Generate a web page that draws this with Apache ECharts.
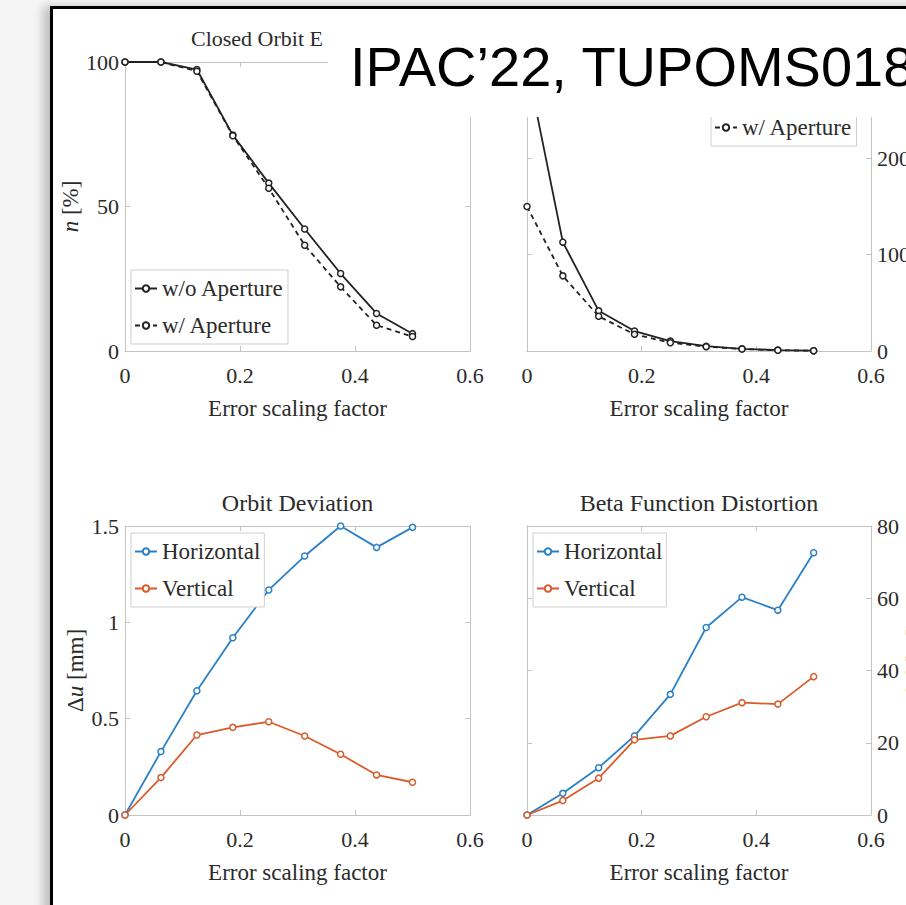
<!DOCTYPE html>
<html><head><meta charset="utf-8">
<script src="https://cdn.jsdelivr.net/npm/echarts@6/dist/echarts.min.js"></script>
<style>
html,body{margin:0;padding:0;width:906px;height:905px;overflow:hidden;background:#f5f5f5;}
#frame{position:absolute;left:50px;top:6px;width:1000px;height:1000px;background:#fff;border-left:3px solid #000;border-top:3px solid #000;box-shadow:-7px 0 9px rgba(0,0,0,0.22);}
#c{position:absolute;left:0;top:0;width:906px;height:905px;}
</style>
</head><body><div id="frame"></div><div id="c"></div>
<script>
// ---- data ----
const factor = [0, 0.0625, 0.125, 0.1875, 0.25, 0.3125, 0.375, 0.4375, 0.5];
const survivalNoAperture = [100, 100, 97.4, 74.7, 58.1, 42.2, 26.8, 13.0, 6.0];
const survivalAperture   = [100, 100, 96.8, 74.5, 56.3, 36.6, 22.2, 8.9, 5.0];
const countNoAperture = [297, 113, 41.7, 20.7, 10.3, 5.0, 2.3, 1.0, 0.3];
const countAperture   = [150, 78, 36.0, 17.3, 8.6, 4.5, 2.0, 0.8, 0.2];
const orbitH = [0, 0.329, 0.645, 0.920, 1.168, 1.344, 1.500, 1.389, 1.493];
const orbitV = [0, 0.194, 0.415, 0.455, 0.484, 0.410, 0.315, 0.208, 0.170];
const betaH = [0, 6.0, 13.1, 21.9, 33.4, 51.9, 60.3, 56.7, 72.6];
const betaV = [0, 4.0, 10.2, 20.8, 21.9, 27.2, 31.1, 30.7, 38.3];
const xTicks = [0, 0.2, 0.4, 0.6];
const yTicksSurvival = [0, 50, 100];
const yTicksCount = [0, 100, 200, 300];
const yTicksOrbit = [0, 0.5, 1, 1.5];
const yTicksBeta = [0, 20, 40, 60, 80];
// visible part of the first title (rest is hidden behind the banner box)
const titles = ['Closed Orbit E', '', 'Orbit Deviation', 'Beta Function Distortion'];
const xName = 'Error scaling factor';
const legendAperture = ['w/o Aperture', 'w/ Aperture'];
const legendPlane = ['Horizontal', 'Vertical'];
const banner = 'IPAC\u201922, TUPOMS018';

// ---- style ----
const SERIF = '"Liberation Serif", "DejaVu Serif", serif';
const TXT = '#2b2b2b';
const AX = '#c4c4c4';
const BLACK = '#222222';
const BLUE = '#2a80c6';
const ORANGE = '#da5b2b';

const grids = [
  {left:125, top:62, width:345, height:289},
  {left:527, top:62, width:344, height:289},
  {left:125, top:526, width:345, height:289},
  {left:527, top:526, width:344, height:289}
].map(g => Object.assign(g, {containLabel:false, outerBoundsMode:'none'}));
const yCfg = [
  {ticks:yTicksSurvival, side:'left', name:'{i|n} [%]', gap:42, hideMax:false},
  {ticks:yTicksCount, side:'right', name:'', gap:40, hideMax:true},
  {ticks:yTicksOrbit, side:'left', name:'\u0394{i|u} [mm]', gap:38, hideMax:false},
  {ticks:yTicksBeta, side:'right', name:'\u0394{i|\u03b2}/{i|\u03b2} [%]', gap:30, hideMax:false}
];

const xAxis = [], yAxis = [];
grids.forEach((g, i) => {
  const common = {type:'value', gridIndex:i, min:xTicks[0], max:xTicks[xTicks.length-1],
    interval:xTicks[1]-xTicks[0], splitLine:{show:false},
    axisLine:{show:true, onZero:false, lineStyle:{color:AX, width:1}},
    axisTick:{show:true, inside:true, length:5, lineStyle:{color:AX}}};
  xAxis.push(Object.assign({}, common, {position:'bottom', name:xName, nameLocation:'middle', nameGap:46,
    nameTextStyle:{fontFamily:SERIF, fontSize:23, color:TXT},
    axisLabel:{fontFamily:SERIF, fontSize:22, color:TXT, margin:13}}));
  xAxis.push(Object.assign({}, common, {position:'top', axisLabel:{show:false}}));
  const yc = yCfg[i];
  const t = yc.ticks;
  ['left','right'].forEach(pos => {
    const lab = pos === yc.side;
    yAxis.push({type:'value', gridIndex:i, position:pos, min:t[0], max:t[t.length-1], interval:t[1]-t[0],
      splitLine:{show:false},
      axisLine:{show:true, onZero:false, lineStyle:{color:AX, width:1}},
      axisTick:{show:true, inside:true, length:5, lineStyle:{color:AX}},
      axisLabel:{show:lab, fontFamily:SERIF, fontSize:22, color:TXT, margin:6, showMaxLabel: !yc.hideMax},
      name: lab ? yc.name : '', nameLocation:'middle', nameGap:yc.gap, nameRotate:90,
      nameTextStyle:{fontFamily:SERIF, fontSize:23, color:TXT,
        rich:{i:{fontFamily:SERIF, fontStyle:'italic', fontSize:23, color:TXT}}}
    });
  });
});

function pairs(ys){ return factor.map((x, k) => [x, ys[k]]); }
function mk(name, g, ys, color, dashed){
  return {type:'line', name:name, xAxisIndex:2*g, yAxisIndex:2*g + (yCfg[g].side==='right'?1:0),
    data:pairs(ys), symbol:'circle', symbolSize:6, showSymbol:true,
    lineStyle:{color:color, width:1.8, type: dashed ? [5,4] : 'solid'},
    itemStyle:{color:'#ffffff', borderColor:color, borderWidth:1.5}, z: 3};
}
const series = [
  mk(legendAperture[0], 0, survivalNoAperture, BLACK, false),
  mk(legendAperture[1], 0, survivalAperture, BLACK, true),
  mk(legendAperture[0], 1, countNoAperture, BLACK, false),
  mk(legendAperture[1], 1, countAperture, BLACK, true),
  mk(legendPlane[0], 2, orbitH, BLUE, false),
  mk(legendPlane[1], 2, orbitV, ORANGE, false),
  mk(legendPlane[0], 3, betaH, BLUE, false),
  mk(legendPlane[1], 3, betaV, ORANGE, false)
];

function lg(data, left, top){
  return {data:data, orient:'vertical', left:left, top:top, selectedMode:false,
    itemWidth:22, itemHeight:8, itemGap:14, padding:[7,4,7,3],
    borderColor:'#cfcfcf', borderWidth:1, backgroundColor:'#ffffff',
    textStyle:{fontFamily:SERIF, fontSize:23, color:TXT}};
}
// top-right legend: only its lower entry is visible below the banner box
const legend = [lg(legendAperture,131,270), lg([legendAperture[1]],711,109), lg(legendPlane,131,533), lg(legendPlane,533,533)];

const title = [];
titles.forEach((t, i) => {
  if (!t) return;
  const g = grids[i];
  const o = {text:t, top:g.top - 35, padding:0,
    textStyle:{fontFamily:SERIF, fontSize:24, fontWeight:'normal', color:TXT}};
  if (i === 0) { o.left = 191; o.textStyle.fontSize = 22; } else { o.left = g.left + g.width/2; o.textAlign = 'center'; }
  title.push(o);
});

const chart = echarts.init(document.getElementById('c'), null, {renderer:'svg'});
chart.setOption({
  animation:false,
  backgroundColor:'transparent',
  grid: grids,
  xAxis: xAxis,
  yAxis: yAxis,
  title: title,
  legend: legend,
  series: series,
  graphic: [
    {type:'rect', z:100, shape:{x:328, y:9, width:600, height:108}, style:{fill:'#ffffff'}},
    {type:'text', z:101, left:350, top:38, style:{text:banner, fill:'#000000',
      font:'56px "Liberation Sans", Arial, sans-serif'}}
  ]
});
</script>
</body></html>
